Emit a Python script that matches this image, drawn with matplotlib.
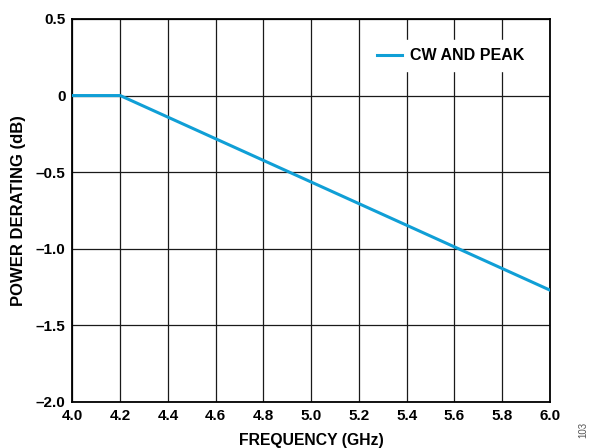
import numpy as np
import matplotlib
matplotlib.use('Agg')
import matplotlib.pyplot as plt

plt.rcParams['font.family'] = ['Liberation Sans', 'DejaVu Sans']
plt.rcParams['font.weight'] = 'bold'

# derating curve breakpoints (GHz, dB)
freq_ghz = [4.0, 4.2, 6.0]
derating_db = [0.0, 0.0, -1.27]

x_ticks = [4.0, 4.2, 4.4, 4.6, 4.8, 5.0, 5.2, 5.4, 5.6, 5.8, 6.0]
y_ticks = [0.5, 0, -0.5, -1.0, -1.5, -2.0]
y_labels = ['0.5', '0', '–0.5', '–1.0', '–1.5', '–2.0']

fig = plt.figure(figsize=(5.95, 4.48), dpi=100)
ax = fig.add_axes([0.1218, 0.1027, 0.8025, 0.855])

ax.plot(freq_ghz, derating_db, color='#109fd6', linewidth=2.2,
        label='CW AND PEAK', zorder=3)

ax.set_xlim(4.0, 6.0)
ax.set_ylim(-2.0, 0.5)
ax.set_xticks(x_ticks)
ax.set_xticklabels(['%.1f' % v for v in x_ticks])
ax.set_yticks(y_ticks)
ax.set_yticklabels(y_labels)
ax.tick_params(length=0, labelsize=11, pad=5)
for lab in ax.get_xticklabels() + ax.get_yticklabels():
    lab.set_fontweight('bold')

ax.grid(True, color='#1a1a1a', linewidth=0.9)
ax.set_axisbelow(True)
for sp in ax.spines.values():
    sp.set_linewidth(1.3)
    sp.set_color('black')

ax.set_xlabel('FREQUENCY (GHz)', fontsize=11.3, fontweight='bold')
ax.xaxis.set_label_coords(0.5, -0.08)
ax.set_ylabel('POWER DERATING (dB)', fontsize=12, fontweight='bold')
ax.yaxis.set_label_coords(-0.097, 0.5)

leg = ax.legend(loc='upper right', bbox_to_anchor=(0.98, 0.965),
                frameon=True, fancybox=False, handlelength=1.6,
                handletextpad=0.5, borderpad=0.5,
                prop={'size': 11.5, 'weight': 'bold'})
leg.get_frame().set_edgecolor('white')
leg.get_frame().set_facecolor('white')
leg.get_frame().set_alpha(1.0)

fig.text(0.98, 0.04, '103', rotation=90, fontsize=7, fontweight='normal',
         color='#555555', ha='center', va='center')

fig.savefig('out.png', dpi=100)
